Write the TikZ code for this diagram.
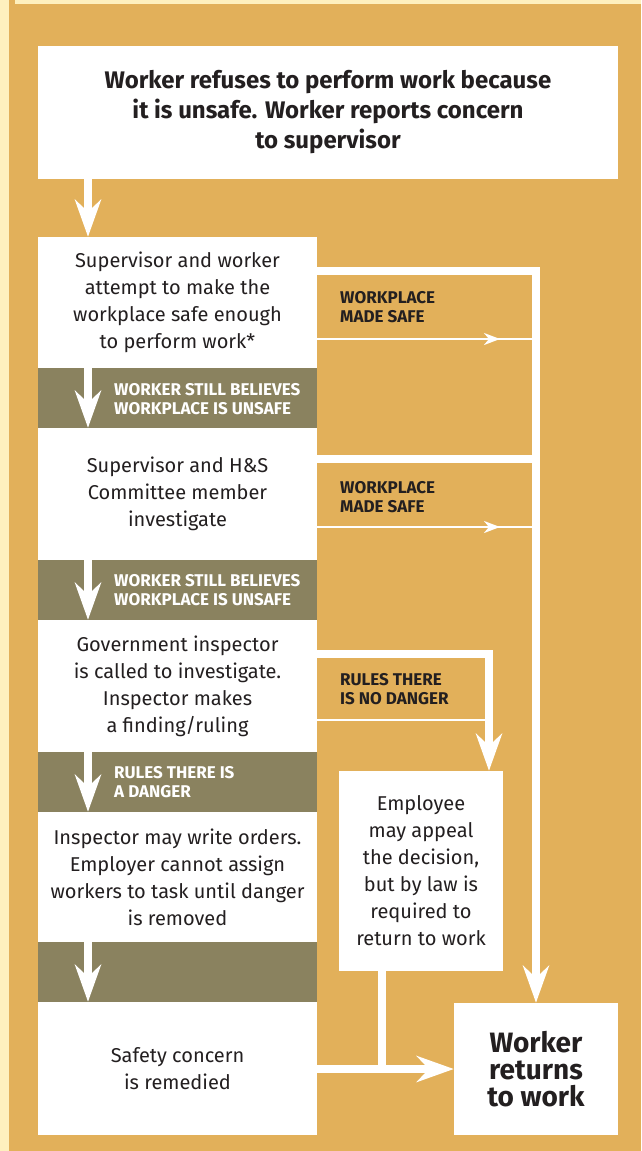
\documentclass[tikz,border=0pt]{standalone}
\usepackage{fontspec}
\setmainfont{Fira Sans}
\usetikzlibrary{arrows.meta}
\definecolor{gold}{HTML}{E2B05A}
\definecolor{cream}{HTML}{FEF0BE}
\definecolor{olive}{HTML}{8A825F}
\definecolor{ink}{HTML}{231F20}
\begin{document}
\begin{tikzpicture}[x=1pt,y=-1pt,
  box/.style={fill=white, inner sep=0pt, text=ink, align=center, font=\fontsize{20}{27}\selectfont},
  band/.style={fill=olive, inner sep=0pt, minimum width=279, minimum height=60},
  bandtxt/.style={anchor=west, inner sep=0pt, text=white, align=left, font=\bfseries\fontsize{17}{18.5}\selectfont},
  goldtxt/.style={anchor=west, inner sep=0pt, text=ink, align=left, font=\bfseries\fontsize{17}{18.5}\selectfont},
  wline/.style={draw=white, line width=8pt, line join=miter},
  tline/.style={draw=white, line width=2.5pt},
  bigtip/.style={-{Stealth[length=37pt,width=26pt,inset=12pt]}},
  smalltip/.style={-{Stealth[length=16pt,width=12pt,inset=5pt]}},
]
\useasboundingbox (0,0) rectangle (641,1151);
\fill[cream] (0,0) rectangle (641,1151);
\fill[gold] (9,4) rectangle (641,1151);
\fill[gold] (9,0) rectangle (15,4);

% boxes
\node[box, minimum width=580, minimum height=133, font=\bfseries\fontsize{24}{30}\selectfont] (top) at (328,112)
  {Worker refuses to perform work because\\ it is unsafe. Worker reports concern\\ to supervisor};
\node[box, minimum width=279, minimum height=131] (b1) at (177.5,302.5)
  {Supervisor and worker\\ attempt to make the\\ workplace safe enough\\ to perform work*};
\node[band] (k1) at (177.5,398) {};
\node[box, minimum width=279, minimum height=132] (b2) at (177.5,494)
  {Supervisor and H\&S\\ Committee member\\ investigate};
\node[band] (k2) at (177.5,590) {};
\node[box, minimum width=279, minimum height=132] (b3) at (177.5,686)
  {Government inspector\\ is called to investigate.\\ Inspector makes\\ a finding/ruling};
\node[band] (k3) at (177.5,782) {};
\node[box, minimum width=279, minimum height=130] (b4) at (177.5,877)
  {Inspector may write orders.\\ Employer cannot assign\\ workers to task until danger\\ is removed};
\node[band] (k4) at (177.5,972) {};
\node[box, minimum width=279, minimum height=133] (b5) at (177.5,1068.5)
  {Safety concern\\ is remedied};
\node[box, minimum width=164, minimum height=200] (emp) at (421,871)
  {Employee\\ may appeal\\ the decision,\\ but by law is\\ required to\\ return to work};
\node[box, minimum width=164, minimum height=132, font=\bfseries\fontsize{28}{27}\selectfont] (ret) at (536,1069)
  {Worker\\ returns\\ to work};

% labels
\node[bandtxt] (l1) at (114,399) {WORKER STILL BELIEVES\\ WORKPLACE IS UNSAFE};
\node[bandtxt] (l2) at (114,590) {WORKER STILL BELIEVES\\ WORKPLACE IS UNSAFE};
\node[bandtxt] (l3) at (114,782) {RULES THERE IS\\ A DANGER};
\node[goldtxt] (g1) at (340,307) {WORKPLACE\\ MADE SAFE};
\node[goldtxt] (g2) at (340,497) {WORKPLACE\\ MADE SAFE};
\node[goldtxt] (g3) at (340,689) {RULES THERE\\ IS NO DANGER};

% helper coordinates
\coordinate (ax) at (88,0);
\coordinate (R) at (536,0);
\coordinate (R2) at (489,0);
\coordinate (E) at (382,0);
\coordinate (y1) at (0,271);
\coordinate (y2) at (0,459);
\coordinate (y3) at (0,654);
\coordinate (y5) at (0,1069);
\coordinate (y5b) at (0,1073);
\coordinate (t1) at (0,339);
\coordinate (t2) at (0,527);
\coordinate (t3) at (0,720);
\coordinate (h1) at (500,339);
\coordinate (h2) at (500,527);

% down arrows
\draw[wline,bigtip] (top.south -| ax) -- (b1.north -| ax);
\draw[wline,bigtip] (k1.north -| ax) -- (b2.north -| ax);
\draw[wline,bigtip] (k2.north -| ax) -- (b3.north -| ax);
\draw[wline,bigtip] (k3.north -| ax) -- (b4.north -| ax);
\draw[wline,bigtip] (k4.north -| ax) -- (b5.north -| ax);

% right flows
\draw[wline,bigtip] (b1.east |- y1) -- (R |- y1) -- (ret.north -| R);
\draw[wline] (b2.east |- y2) -- (R |- y2);
\draw[tline] (b1.east |- t1) -- ([xshift=-4pt]R |- t1);
\draw[tline,smalltip] (b1.east |- t1) -- (h1);
\draw[tline] (b2.east |- t2) -- ([xshift=-4pt]R |- t2);
\draw[tline,smalltip] (b2.east |- t2) -- (h2);

\draw[wline,bigtip] (b3.east |- y3) -- (R2 |- y3) -- (emp.north -| R2);
\draw[tline] (b3.east |- t3) -- ([xshift=-4pt]R2 |- t3);

\draw[wline,bigtip] (b5.east |- y5) -- (ret.west |- y5);
\draw[wline] (emp.south -| E) -- (E |- y5b);
\end{tikzpicture}
\end{document}
